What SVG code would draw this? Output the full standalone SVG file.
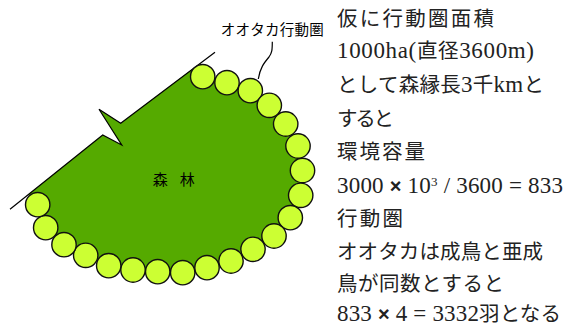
<svg xmlns="http://www.w3.org/2000/svg" width="564" height="326" viewBox="0 0 564 326">
<style>
.bird{fill:#ccff33;stroke:#111;stroke-width:1.4}
.edge{fill:none;stroke:#000;stroke-width:1.2}
.t{font-family:"Noto Sans CJK JP",sans-serif;font-size:20.5px;fill:#222}
.L{font-family:"Liberation Serif","Times New Roman",serif;font-size:23px}
.sup{font-family:"Liberation Serif","Times New Roman",serif;font-size:13px}
.x{font-family:"Liberation Sans",sans-serif;font-weight:bold;font-size:20px}
.lbl{font-family:"Noto Sans CJK JP",sans-serif;fill:#000}
</style>
<rect width="564" height="326" fill="#fff"/>
<g id="forest">
<path d="M195,67 L202.7,76.7 L227,82.7 L250.3,90.7 L269.3,105.3 L285.7,124 L298,146 L302.5,170.5 L300.7,195.3 L290.3,217.7 L274,236 L253,249.3 L231,261 L207,267.7 L182.7,272.7 L157.7,271.7 L133,270 L108.7,265.7 L85.7,255.3 L64,244.7 L45.7,227.7 L37.7,204.7 L28,194.8 L102.7,135 L121.7,145 L99,109.3 L120.7,123.3 Z" fill="#55aa00"/>
<text class="lbl" x="152.7" y="185" font-size="15" textLength="42" lengthAdjust="spacing">森　林</text>
</g>
<g id="connectors">
<polyline class="edge" points="215,52.3 120.7,123.3 99,109.3 121.7,145 102.7,135 10,209.3"/>
<path class="edge" d="M272.3,41.7 C272.3,50 272,53 269,57 C264,63 260,68 258.3,79" stroke-width="1"/>
</g>
<g id="range">
<circle class="bird" cx="202.7" cy="76.7" r="12.2"/>
<circle class="bird" cx="227" cy="82.7" r="12.2"/>
<circle class="bird" cx="250.3" cy="90.7" r="12.2"/>
<circle class="bird" cx="269.3" cy="105.3" r="12.2"/>
<circle class="bird" cx="285.7" cy="124" r="12.2"/>
<circle class="bird" cx="298" cy="146" r="12.2"/>
<circle class="bird" cx="302.5" cy="170.5" r="12.2"/>
<circle class="bird" cx="300.7" cy="195.3" r="12.2"/>
<circle class="bird" cx="290.3" cy="217.7" r="12.2"/>
<circle class="bird" cx="274" cy="236" r="12.2"/>
<circle class="bird" cx="253" cy="249.3" r="12.2"/>
<circle class="bird" cx="231" cy="261" r="12.2"/>
<circle class="bird" cx="207" cy="267.7" r="12.2"/>
<circle class="bird" cx="182.7" cy="272.7" r="12.2"/>
<circle class="bird" cx="157.7" cy="271.7" r="12.2"/>
<circle class="bird" cx="133" cy="270" r="12.2"/>
<circle class="bird" cx="108.7" cy="265.7" r="12.2"/>
<circle class="bird" cx="85.7" cy="255.3" r="12.2"/>
<circle class="bird" cx="64" cy="244.7" r="12.2"/>
<circle class="bird" cx="45.7" cy="227.7" r="12.2"/>
<circle class="bird" cx="37.7" cy="204.7" r="12.2"/>
<text class="lbl" x="220.7" y="35" font-size="14.5" textLength="103" lengthAdjust="spacing">オオタカ行動圏</text>
</g>
<g id="notes" class="t">
<text x="337" y="26" textLength="157" lengthAdjust="spacing">仮に行動圏面積</text>
<text x="337" y="58" textLength="197" lengthAdjust="spacing"><tspan class="L">1000ha(</tspan>直径<tspan class="L">3600m)</tspan></text>
<text x="337" y="92" textLength="207" lengthAdjust="spacing">として森縁長<tspan class="L">3</tspan>千<tspan class="L">km</tspan>と</text>
<text x="337" y="126" textLength="57" lengthAdjust="spacing">すると</text>
<text x="337" y="159" textLength="88" lengthAdjust="spacing">環境容量</text>
<text x="337" y="193" textLength="226" lengthAdjust="spacing"><tspan class="L">3000 </tspan><tspan class="x">×</tspan><tspan class="L"> 10</tspan><tspan class="sup" dy="-7">3</tspan><tspan class="L" dy="7"> / 3600 = 833</tspan></text>
<text x="337" y="226" textLength="66" lengthAdjust="spacing">行動圏</text>
<text x="337" y="259" textLength="206" lengthAdjust="spacing">オオタカは成鳥と亜成</text>
<text x="337" y="291" textLength="167" lengthAdjust="spacing">鳥が同数とすると</text>
<text x="337" y="321" textLength="224" lengthAdjust="spacing"><tspan class="L">833 </tspan><tspan class="x">×</tspan><tspan class="L"> 4 = 3332</tspan>羽となる</text>
</g>
</svg>
